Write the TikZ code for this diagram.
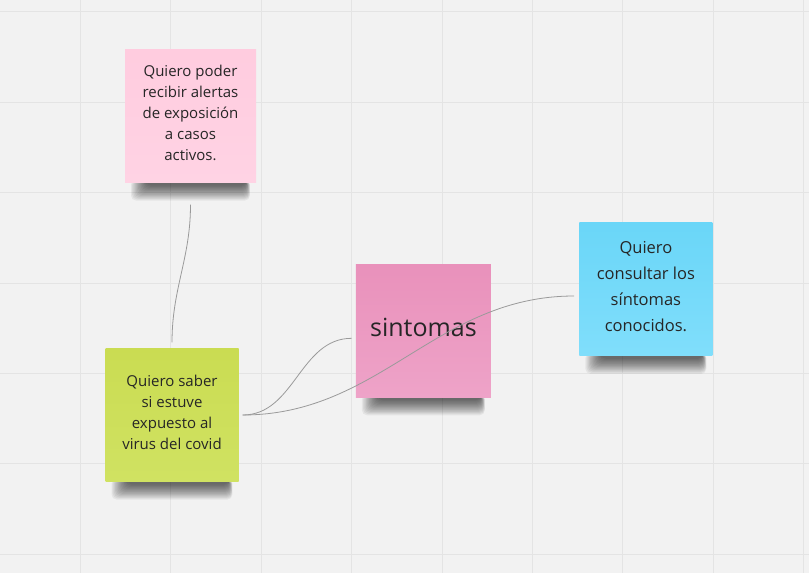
\documentclass[tikz,border=0pt]{standalone}
\usepackage{fontspec}
\setmainfont{Open Sans}

\pgfdeclarelayer{board}
\pgfdeclarelayer{shade}
\pgfsetlayers{board,shade,main}

\begin{document}
\begin{tikzpicture}[x=1pt, y=-1pt]

\definecolor{boardBG}{HTML}{F2F2F2}
\definecolor{gridLN}{HTML}{E4E4E4}
\definecolor{noteText}{HTML}{262626}
\definecolor{linkGrey}{HTML}{9A9A9A}
\definecolor{pinkLightTop}{HTML}{FFCCDF}
\definecolor{pinkLightBot}{HTML}{FFD3E4}
\definecolor{pinkTop}{HTML}{E991BB}
\definecolor{pinkBot}{HTML}{EEA3C8}
\definecolor{limeTop}{HTML}{CADC52}
\definecolor{limeBot}{HTML}{D0E262}
\definecolor{cyanTop}{HTML}{6AD6F8}
\definecolor{cyanBot}{HTML}{80DEFB}

\tikzset{
  sticky/.style={minimum width=133pt, minimum height=133pt, inner sep=0pt,
    align=center, text=noteText, text depth=6pt,
    font=\fontsize{15}{21}\selectfont},
  link/.style={draw=linkGrey, line width=0.8pt}
}

\useasboundingbox (0,0) rectangle (809,573);

% board grid
\begin{pgfonlayer}{board}
\fill[boardBG] (0,0) rectangle (809,573);
\foreach \i in {0,1,...,8} {
  \draw[gridLN, line width=1pt] (80.4+90.4*\i,0) -- (80.4+90.4*\i,573);
}
\foreach \j in {0,1,...,6} {
  \draw[gridLN, line width=1pt] (0,11.8+90.4*\j) -- (809,11.8+90.4*\j);
}
\end{pgfonlayer}

\node[sticky, minimum width=131pt, top color=pinkLightTop, bottom color=pinkLightBot]
  (alertas) at (190.5,116) {Quiero poder\\recibir alertas\\de exposición\\a casos\\activos.};
\node[sticky, top color=limeTop, bottom color=limeBot]
  (expuesto) at (172,415) {Quiero saber\\si estuve\\expuesto al\\virus del covid};
\node[sticky, minimum width=135pt, top color=pinkTop, bottom color=pinkBot,
  font=\fontsize{25}{30}\selectfont]
  (sintomas) at (423.4,330.7) {sintomas};
\node[sticky, top color=cyanTop, bottom color=cyanBot,
  font=\fontsize{16.5}{25.8}\selectfont]
  (consultar) at (645.9,289.3) {Quiero\\consultar los\\síntomas\\conocidos.};

% soft shadows under the notes
\begin{pgfonlayer}{shade}
\foreach \n in {alertas,expuesto,sintomas,consultar} {
  \foreach \k in {1,...,14} {
    \fill[black, opacity=0.055, rounded corners=5pt]
      ([xshift={(5+1.2*\k)*1pt}, yshift=3pt]\n.south west) rectangle
      ([xshift={-(6+0.3*\k)*1pt}, yshift={-(19-1.15*\k)*1pt}]\n.south east);
  }
}
\end{pgfonlayer}

\draw[link] ([yshift=-22pt]alertas.south) to[out=-90, in=90] ([yshift=6pt]expuesto.north);
\draw[link] ([xshift=4pt]expuesto.east) to[out=0, in=180] ([xshift=-4pt, yshift=-7.6pt]sintomas.west);
\draw[link] ([xshift=4pt]expuesto.east) to[out=0, in=180] ([xshift=-5pt, yshift=-6.7pt]consultar.west);

\end{tikzpicture}
\end{document}
